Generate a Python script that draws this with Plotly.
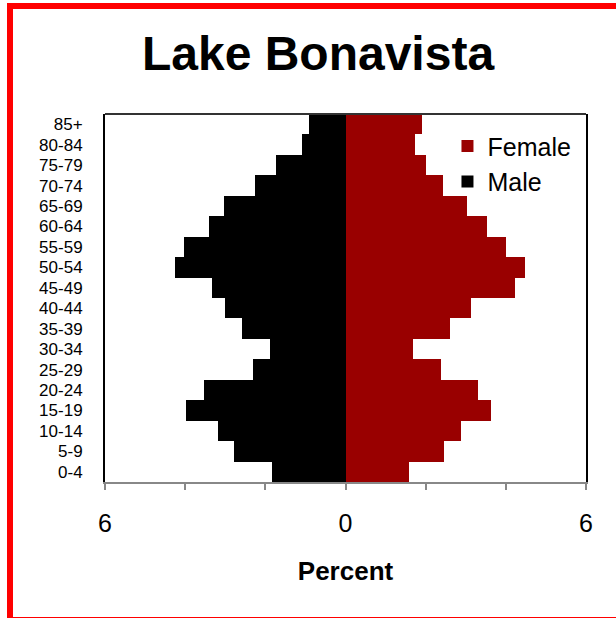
import plotly.graph_objects as go

AGE_GROUPS = ["0-4", "5-9", "10-14", "15-19", "20-24", "25-29", "30-34", "35-39",
              "40-44", "45-49", "50-54", "55-59", "60-64", "65-69", "70-74",
              "75-79", "80-84", "85+"]
MALE_PCT = [1.84, 2.77, 3.19, 3.98, 3.52, 2.30, 1.89, 2.58,
            3.01, 3.32, 4.26, 4.02, 3.41, 3.04, 2.25, 1.74, 1.09, 0.91]
FEMALE_PCT = [1.59, 2.46, 2.89, 3.63, 3.30, 2.38, 1.68, 2.60,
              3.12, 4.24, 4.47, 4.01, 3.54, 3.02, 2.43, 2.00, 1.73, 1.91]
X_TICKS = [-6, -4, -2, 0, 2, 4, 6]
X_TICK_TEXT = ["6", "", "", "0", "", "", "6"]

FONT = "Liberation Sans, Arial, sans-serif"
MALE_COLOR = "#000000"
FEMALE_COLOR = "#990000"

PLOT_L, PLOT_T, PLOT_W, PLOT_H = 105, 114, 481, 368


def px_x(px):
    return (px - PLOT_L) / PLOT_W


def px_y(py):
    return (PLOT_T + PLOT_H - py) / PLOT_H


fig = go.Figure()
fig.add_trace(go.Bar(
    y=AGE_GROUPS,
    x=[-v for v in MALE_PCT],
    customdata=MALE_PCT,
    orientation="h",
    name="Male",
    marker=dict(color=MALE_COLOR, line=dict(width=0)),
    hovertemplate="%{y}: %{customdata}%<extra>Male</extra>",
))
fig.add_trace(go.Bar(
    y=AGE_GROUPS,
    x=FEMALE_PCT,
    orientation="h",
    name="Female",
    marker=dict(color=FEMALE_COLOR, line=dict(width=0)),
    hovertemplate="%{y}: %{x}%<extra>Female</extra>",
))

fig.update_layout(
    width=616,
    height=618,
    barmode="relative",
    bargap=0,
    plot_bgcolor="white",
    paper_bgcolor="white",
    font=dict(family=FONT, color="black"),
    margin=dict(l=PLOT_L, r=616 - PLOT_L - PLOT_W, t=PLOT_T, b=618 - PLOT_T - PLOT_H),
    title=dict(
        text="<b>Lake Bonavista</b>",
        font=dict(size=48, family=FONT),
        x=px_x(318), xref="paper", xanchor="center",
        y=1 - 53 / 618, yanchor="middle",
    ),
    legend=dict(
        traceorder="reversed",
        x=0.712, y=0.975, xanchor="left", yanchor="top",
        font=dict(size=25, family=FONT),
        bgcolor="rgba(0,0,0,0)",
        itemwidth=30,
    ),
    xaxis=dict(
        range=[-6, 6],
        tickvals=X_TICKS,
        ticktext=X_TICK_TEXT,
        ticks="outside",
        ticklen=6,
        tickwidth=2,
        tickcolor="#888888",
        showline=True,
        linecolor="#888888",
        linewidth=2,
        showgrid=False,
        zeroline=False,
        tickfont=dict(size=25),
        ticklabelstandoff=12,
        title=dict(text="<b>Percent</b>", font=dict(size=26), standoff=26),
        fixedrange=True,
    ),
    yaxis=dict(
        categoryorder="array",
        categoryarray=AGE_GROUPS,
        showline=True,
        linecolor="black",
        linewidth=2,
        mirror=True,
        showgrid=False,
        zeroline=False,
        ticks="",
        tickfont=dict(size=17),
        ticklabelstandoff=17,
        fixedrange=True,
    ),
    shapes=[
        # top edge of the plot frame
        dict(type="line", xref="paper", yref="paper", x0=0, x1=1, y0=1, y1=1,
             line=dict(color="#333333", width=2)),
        # red frame around the whole chart
        dict(type="rect", xref="paper", yref="paper",
             x0=px_x(10), x1=px_x(640),
             y0=px_y(620), y1=px_y(6),
             line=dict(color="#ff0000", width=6)),
    ],
)

# drop the default body margin so the figure sits at the page origin
fig.write_html(
    "out.html",
    config={"displayModeBar": False},
    post_script="document.body.style.margin = '0';",
)
